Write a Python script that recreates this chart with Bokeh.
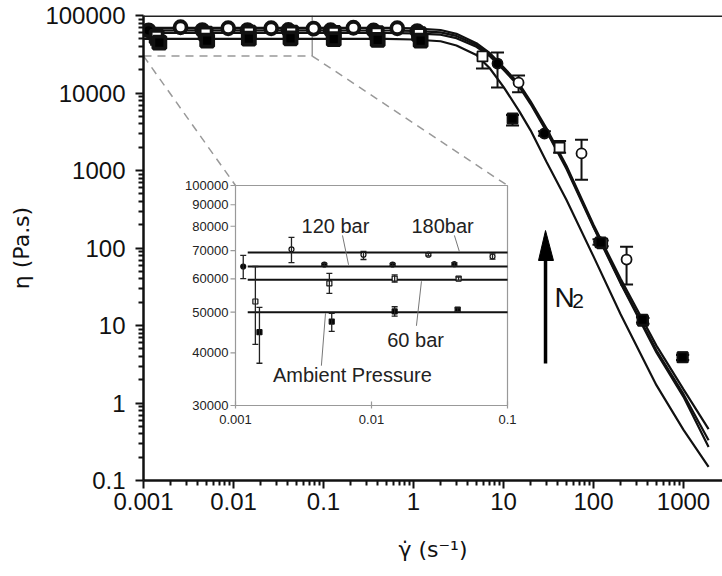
import math
from bokeh.plotting import figure
from bokeh.models import (ColumnDataSource, Whisker, TeeHead, FixedTicker, CustomJSTickFormatter,
                          Span, Range1d, LogScale)
from bokeh.core.properties import value
from bokeh.embed import file_html
from bokeh.resources import INLINE

FONT = "Liberation Sans"
LABEL_FONT = "DejaVu Sans"

# ---------------- data ----------------
# 180 bar (open circles)
x180 = [0.00258, 0.00873, 0.0262, 0.0776, 0.215, 0.66, 14.7, 73.6, 233]
y180 = [70500, 68500, 68500, 67800, 69500, 68500, 13600, 1660, 71]
lo180 = [65600, 66700, 68000, 66800, 68000, 67000, 10200, 760, 33.8]
hi180 = [75300, 69700, 69000, 68800, 71000, 70000, 16800, 2500, 104]
# 120 bar (filled circles)
x120 = [0.00114, 0.0045, 0.0143, 0.0407, 0.12, 0.36, 1.1, 8.58, 28.5, 115]
y120 = [64200, 64900, 64900, 65000, 64500, 64000, 63000, 24000, 3000, 120]
lo120 = [60100, 64500, 64500, 64400, 63000, 62500, 61500, 11800, 2800, 110]
hi120 = [68200, 65300, 65300, 65600, 66000, 65500, 64500, 33300, 3200, 130]
# 60 bar (open squares)
x60 = [0.0014, 0.0049, 0.0148, 0.0437, 0.13, 0.39, 1.15, 5.84, 42, 125, 355, 980]
y60 = [53000, 58500, 60100, 60100, 59500, 59000, 57500, 29600, 1980, 115, 11.5, 3.9]
lo60 = [41900, 55400, 58900, 59600, 57500, 57000, 55500, 20700, 1700, 105, 10.5, 3.6]
hi60 = [64200, 61800, 61300, 60600, 61500, 61000, 59500, 31500, 2400, 125, 12.5, 4.2]
# ambient pressure (filled squares)
xamb = [0.0015, 0.0051, 0.0148, 0.043, 0.13, 0.40, 1.2, 12.6, 120, 350, 975]
yamb = [44800, 47500, 50200, 50700, 49500, 48500, 47500, 4690, 118, 11.9, 3.87]
loamb = [37800, 45000, 48900, 50200, 47500, 46500, 45500, 3800, 108, 10.9, 3.6]
hiamb = [51300, 49700, 51500, 51200, 51500, 50500, 49500, 5200, 128, 12.9, 4.15]

# fitted curves
x_fit = [0.001, 0.1, 0.5, 1, 2, 3, 5, 7, 10, 15, 20, 30, 50, 100, 200, 500, 1000, 1900]
fit180 = [69300, 69300, 69100, 68300, 65000, 58000, 44000, 33000, 21500, 13000, 7800, 3500, 1150, 200, 40, 5.5, 1.5, 0.46]
fit120 = [64200, 64200, 64000, 63300, 60500, 54500, 41500, 31500, 20800, 12500, 7500, 3300, 1100, 190, 36, 4.8, 1.3, 0.33]
fit60 = [59700, 59700, 59500, 58800, 56500, 51000, 39500, 30000, 20000, 12000, 7200, 3200, 1050, 185, 35, 4.5, 1.2, 0.27]
fitamb = [50000, 50000, 49800, 49000, 46500, 41000, 31000, 21000, 12000, 5800, 3300, 1300, 420, 78, 14, 1.7, 0.45, 0.15]

# inset plateau lines
inset_line_x = [0.00123, 0.1]
plateau = [69300, 64200, 59700, 50000]

# axis limits and tick values
main_x_lim = (0.001, 2712)
main_y_lim = (0.1, 100000)
inset_x_lim = (0.001, 0.1)
inset_y_lim = (30000, 100000)
main_x_ticks = [0.001, 0.01, 0.1, 1, 10, 100, 1000]
main_y_ticks = [0.1, 1, 10, 100, 1000, 10000, 100000]
inset_x_ticks = [0.001, 0.01, 0.1]
inset_y_ticks = [30000, 40000, 50000, 60000, 70000, 80000, 90000, 100000]

# zoom box (main data coordinates)
box_x = [0.001, 0.075]
box_y = [30000, 100000]

# N2 arrow (main data coordinates)
arrow_x = 29.3
arrow_y = [3.24, 69]
arrow_head_x = [24.5, 29.3, 35.9]
arrow_head_y = [69, 168, 69]

series = [
    (x180, y180, lo180, hi180, "circle", "white"),
    (x120, y120, lo120, hi120, "circle", "black"),
    (x60, y60, lo60, hi60, "square", "white"),
    (xamb, yamb, loamb, hiamb, "square", "black"),
]

# ---------------- layout geometry (pixels inside the figure) ----------------
FL, FT, FW, FH = 143, 15, 579, 465          # main frame
IL, IT, IW, IH = 235, 185, 272, 220         # inset frame


def stretch(lim, a0, a1, b0, b1):
    """range of a log axis spanning pixels b0..b1 when lim spans a0..a1"""
    l0, l1 = math.log10(lim[0]), math.log10(lim[1])
    d = (l1 - l0) / (a1 - a0)
    return 10 ** (l0 - (a0 - b0) * d), 10 ** (l1 + (b1 - a1) * d)


ix = stretch(inset_x_lim, IL, IL + IW, FL, FL + FW)
iy = stretch(inset_y_lim, IH + IT, IT, FH + FT, FT)   # pixel y grows downward


def to_main(px, lim, a0, a1):
    l0, l1 = math.log10(lim[0]), math.log10(lim[1])
    return 10 ** (l0 + (px - a0) * (l1 - l0) / (a1 - a0))


corner_x = [to_main(IL, main_x_lim, FL, FL + FW), to_main(IL + IW, main_x_lim, FL, FL + FW)]
corner_y = to_main(IT, main_y_lim, FT + FH, FT)

def minor(decades):
    return [k * d for d in decades[:-1] for k in range(2, 10)]

num_fmt = CustomJSTickFormatter(code="return tick >= 1 ? tick.toFixed(0) : String(+tick.toPrecision(1));")

# ---------------- main figure ----------------
p = figure(frame_width=FW, frame_height=FH, x_axis_type="log", y_axis_type="log",
           x_range=main_x_lim, y_range=main_y_lim,
           output_backend="svg", toolbar_location=None,
           min_border_left=FL, min_border_right=0, min_border_top=FT, min_border_bottom=88)
p.outline_line_color = None
p.grid.grid_line_color = None
p.background_fill_color = "white"
p.extra_x_ranges = {"ix": Range1d(*ix)}
p.extra_y_ranges = {"iy": Range1d(*iy)}
p.extra_x_scales = {"ix": LogScale()}
p.extra_y_scales = {"iy": LogScale()}

for ax, ticks in ((p.xaxis[0], main_x_ticks), (p.yaxis[0], main_y_ticks)):
    ax.ticker = FixedTicker(ticks=ticks, minor_ticks=minor(ticks))
    ax.formatter = num_fmt
    ax.axis_line_width = 2.5
    ax.axis_line_color = "#111"
    ax.major_tick_line_width = 2
    ax.major_tick_line_color = "#111"
    ax.minor_tick_line_width = 2
    ax.minor_tick_line_color = "#111"
    ax.major_tick_out = 8
    ax.major_tick_in = 0
    ax.minor_tick_out = 5
    ax.minor_tick_in = 0
    ax.major_label_text_font = FONT
    ax.major_label_text_font_size = "24px"
    ax.major_label_text_color = "#111"
    ax.axis_label_text_font = LABEL_FONT
    ax.axis_label_text_font_size = "22px"
    ax.axis_label_text_font_style = "normal"
    ax.axis_label_text_color = "#111"

p.xaxis.axis_label = "γ̇ (s⁻¹)"
p.xaxis.major_label_standoff = 4
p.xaxis.axis_label_standoff = 24
p.yaxis.axis_label = "η (Pa.s)"
p.yaxis.major_label_standoff = 10
p.yaxis.axis_label_standoff = 8

p.add_layout(Span(location=main_y_lim[1], dimension="width", line_color="#222", line_width=3))

# zoom box and connectors
GREY = "#999"
p.line(box_x, [box_y[0], box_y[0]], line_color=GREY, line_width=1.5, line_dash="8 6")
p.line([box_x[1], box_x[1]], box_y, line_color=GREY, line_width=1.5)
p.line([box_x[0], corner_x[0]], [box_y[0], corner_y], line_color=GREY, line_width=1.5, line_dash="8 6")
p.line([box_x[1], corner_x[1]], [box_y[0], corner_y], line_color=GREY, line_width=1.5, line_dash="8 6")

for fit in (fit180, fit120, fit60, fitamb):
    p.line(x_fit, fit, line_color="#111", line_width=2.2)

for xs, ys, lo, hi, mk, fill in series:
    big = [x < 3 for x in xs]
    src = ColumnDataSource(dict(x=xs, y=ys, lo=lo, hi=hi,
                                size=[12 if b else 10 for b in big],
                                lw=[3.8 if b else 1.8 for b in big]))
    p.add_layout(Whisker(source=src, base="x", lower="lo", upper="hi", level="underlay",
                         line_color="#111", line_width=2,
                         lower_head=TeeHead(size=13, line_width=2, line_color="#111"),
                         upper_head=TeeHead(size=13, line_width=2, line_color="#111")))
    p.scatter("x", "y", source=src, marker=mk, size="size", fill_color=fill,
              line_color="#111", line_width="lw")

# N2 arrow
p.line([arrow_x, arrow_x], arrow_y, line_color="black", line_width=3.5)
p.patch(arrow_head_x, arrow_head_y, fill_color="black", line_color="black", line_width=1)
p.text(x=[36.9], y=[23], text=["N"], text_font=value(FONT), text_font_size="28px",
       text_align="left", text_baseline="middle", text_color="#111")
p.text(x=[58], y=[20.5], text=["2"], text_font=value(FONT), text_font_size="21px",
       text_align="left", text_baseline="middle", text_color="#111")

# ---------------- inset (drawn on its own log ranges) ----------------
R = dict(x_range_name="ix", y_range_name="iy")
p.quad(left=[inset_x_lim[0]], right=[inset_x_lim[1]], bottom=[inset_y_lim[0]], top=[inset_y_lim[1]],
       fill_color="white", line_color=GREY, line_width=1.2, **R)
# y ticks and labels
p.ray(x=[inset_x_lim[0]] * len(inset_y_ticks), y=inset_y_ticks, length=5, length_units="screen",
      angle=math.pi, line_color=GREY, line_width=1.2, **R)
p.text(x=[inset_x_lim[0]] * len(inset_y_ticks), y=inset_y_ticks, text=[str(t) for t in inset_y_ticks],
       x_offset=-7, text_align="right", text_baseline="middle", text_font=value(FONT),
       text_font_size="13px", text_color="#222", **R)
# x ticks and labels
p.ray(x=inset_x_ticks, y=[inset_y_lim[0]] * 3, length=4, length_units="screen",
      angle=math.pi / 2, line_color=GREY, line_width=1.2, **R)
p.ray(x=inset_x_ticks, y=[inset_y_lim[0]] * 3, length=3, length_units="screen",
      angle=-math.pi / 2, line_color=GREY, line_width=1.2, **R)
p.text(x=inset_x_ticks, y=[inset_y_lim[0]] * 3, text=["0.001", "0.01", "0.1"],
       y_offset=9, text_align="center", text_baseline="top", text_font=value(FONT),
       text_font_size="13px", text_color="#222", **R)

for lvl in plateau:
    p.line(inset_line_x, [lvl, lvl], line_color="#111", line_width=2, **R)

for xs, ys, lo, hi, mk, fill in series:
    keep = [i for i, x in enumerate(xs) if inset_x_lim[0] <= x <= inset_x_lim[1]]
    src = ColumnDataSource(dict(x=[xs[i] for i in keep], y=[ys[i] for i in keep],
                                lo=[lo[i] for i in keep], hi=[hi[i] for i in keep]))
    p.add_layout(Whisker(source=src, base="x", lower="lo", upper="hi", level="glyph",
                         line_color="#222", line_width=1.3,
                         lower_head=TeeHead(size=6, line_width=1.3, line_color="#222"),
                         upper_head=TeeHead(size=6, line_width=1.3, line_color="#222"), **R))
    p.scatter("x", "y", source=src, marker=mk, size=5, fill_color=fill, line_color="#111",
              line_width=1.2, **R)

# labels and leader lines
lab_x = [0.00543, 0.0333, 0.0211, 0.00724]
lab_y = [80300, 80300, 42900, 35400]
lab_t = ["120 bar", "180bar", "60 bar", "Ambient Pressure"]
p.text(x=lab_x, y=lab_y, text=lab_t, text_font=value(FONT), text_font_size="20px",
       text_align="center", text_baseline="middle", text_color="#222", **R)
lead_x0 = [0.00612, 0.0407, 0.0214, 0.00428]
lead_y0 = [76100, 76100, 46400, 37300]
lead_x1 = [0.00678, 0.0443, 0.0233, 0.00459]
lead_y1 = [64800, 69600, 59200, 49700]
p.segment(x0=lead_x0, y0=lead_y0, x1=lead_x1, y1=lead_y1, line_color="#777", line_width=1, **R)

open("out.html", "w").write(file_html(p, INLINE))
